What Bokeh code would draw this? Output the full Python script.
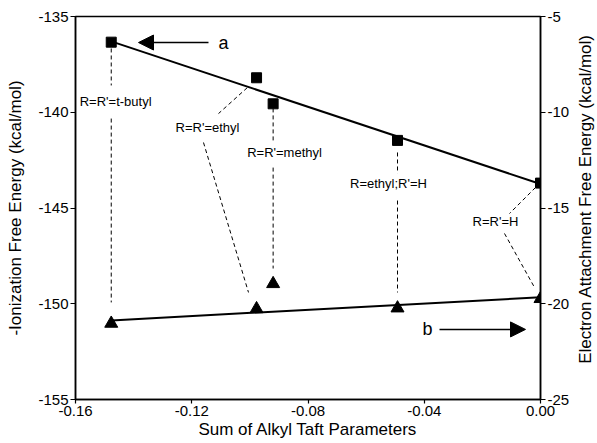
import math
from bokeh.plotting import figure
from bokeh.layouts import row
from bokeh.models import (Range1d, LinearAxis, FixedTicker, NumeralTickFormatter,
                          Arrow, NormalHead, ColumnDataSource)
from bokeh.core.properties import value
from bokeh.embed import file_html
from bokeh.resources import INLINE

# ---------------- data ----------------
taft_sum = [-0.1477, -0.0977, -0.0920, -0.0492, 0.0]
ionization_free_energy = [-136.34, -138.2, -139.56, -141.47, -143.7]      # left axis
attachment_free_energy = [-21.03, -20.27, -18.96, -20.23, -19.74]        # right axis
substituents = ["R=R'=t-butyl", "R=R'=ethyl", "R=R'=methyl", "R=ethyl;R'=H", "R=R'=H"]

fit_x = [-0.1477, 0.0]
fit_a = [-136.3, -143.75]
fit_b = [-20.87, -19.66]

x_ticks = [-0.16, -0.12, -0.08, -0.04, 0.0]
left_ticks = [-155, -150, -145, -140, -135]
right_ticks = [-25, -20, -15, -10, -5]

x_title = "Sum of Alkyl Taft Parameters"
left_title = "-Ionization Free Energy (kcal/mol)"
right_title = "Electron Attachment Free Energy (kcal/mol)"

FONT = "Liberation Sans"

# ---------------- annotation layout (left-axis units) ----------------
label_x = [-0.1462, -0.11458, -0.08808, -0.05230, -0.01548]
label_y = [-139.44, -140.80, -142.10, -143.72, -145.71]
lead_x0 = [-0.1477, -0.1477, -0.10092, -0.11596, -0.0920, -0.0920, -0.0492, -0.0492, -0.00172, -0.01239]
lead_y0 = [-136.67, -140.33, -138.72, -141.58, -139.80, -142.89, -142.10, -144.61, -143.93, -146.33]
lead_x1 = [-0.1477, -0.1477, -0.1108, -0.10047, -0.0920, -0.0920, -0.0492, -0.0492, -0.01067, -0.00206]
lead_y1 = [-138.60, -149.93, -140.07, -149.41, -141.47, -148.16, -143.20, -149.41, -145.29, -149.15]

p = figure(frame_width=465, frame_height=383,
           x_range=Range1d(-0.16, 0.0), y_range=Range1d(-155, -135),
           output_backend="svg", toolbar_location=None,
           min_border_left=75, min_border_right=35, min_border_top=16, min_border_bottom=44)
p.extra_y_ranges = {"right": Range1d(-25, -5)}
p.xgrid.visible = False
p.ygrid.visible = False
p.outline_line_color = "black"
p.outline_line_width = 1.5
p.background_fill_color = "white"
p.border_fill_color = "white"

def style_axis(ax, tick_out=5):
    ax.axis_line_color = "black"
    ax.axis_line_width = 1.5
    ax.major_tick_line_color = "black"
    ax.major_tick_line_width = 1.2
    ax.major_tick_out = tick_out
    ax.major_tick_in = 0
    ax.minor_tick_line_color = None
    ax.major_label_text_font = FONT
    ax.major_label_text_font_size = "15px"
    ax.major_label_text_color = "black"
    ax.major_label_standoff = 2
    ax.axis_label_text_font = FONT
    ax.axis_label_text_font_size = "17px"
    ax.axis_label_text_font_style = "normal"
    ax.axis_label_text_color = "black"

xa = p.xaxis[0]
xa.ticker = FixedTicker(ticks=x_ticks)
xa.formatter = NumeralTickFormatter(format="0.00")
xa.axis_label = x_title
style_axis(xa, 4)
xa.axis_label_standoff = 1

ya = p.yaxis[0]
ya.ticker = FixedTicker(ticks=left_ticks)
ya.formatter = NumeralTickFormatter(format="0")
ya.axis_label = left_title
style_axis(ya)
ya.axis_label_standoff = 10

ra = LinearAxis(y_range_name="right")
ra.ticker = FixedTicker(ticks=right_ticks)
ra.formatter = NumeralTickFormatter(format="0")
style_axis(ra)
p.add_layout(ra, "right")

# leader lines
p.segment(x0=lead_x0, y0=lead_y0, x1=lead_x1, y1=lead_y1,
          line_color="black", line_width=1, line_dash="4 3")

# fit lines
p.line(fit_x, fit_a, line_color="black", line_width=2)
p.line(fit_x, fit_b, line_color="black", line_width=2, y_range_name="right")

# markers
p.scatter(taft_sum, ionization_free_energy, marker="square", size=10,
          fill_color="black", line_color="black")
p.scatter(taft_sum, attachment_free_energy, marker="triangle", size=13,
          fill_color="black", line_color="black", y_range_name="right")

# labels
src = ColumnDataSource(dict(x=label_x, y=label_y, t=substituents))
p.text(x="x", y="y", text="t", source=src, text_font=value(FONT),
       text_font_size="13px", text_align="center", text_baseline="middle",
       text_color="black")

# arrows a and b
p.add_layout(Arrow(end=NormalHead(size=15, fill_color="black", line_color="black"),
                   x_start=-0.11424, y_start=-136.36, x_end=-0.13832, y_end=-136.36,
                   line_color="black", line_width=1.5))
p.add_layout(Arrow(end=NormalHead(size=15, fill_color="black", line_color="black"),
                   x_start=-0.03475, y_start=-151.34, x_end=-0.00516, y_end=-151.34,
                   line_color="black", line_width=1.5))
p.text(x=[-0.10907, -0.03888], y=[-136.36, -151.34], text=["a", "b"],
       text_font=value(FONT), text_font_size="18px",
       text_align="center", text_baseline="middle", text_color="black")

# right-hand axis title (reads bottom to top) in a narrow strip beside the plot
p2 = figure(width=22, height=443, x_range=Range1d(0, 1), y_range=Range1d(0, 443),
            output_backend="svg", toolbar_location=None,
            x_axis_location=None, y_axis_location=None,
            min_border_left=0, min_border_right=0, min_border_top=0, min_border_bottom=0)
p2.xgrid.visible = False
p2.ygrid.visible = False
p2.outline_line_color = None
p2.background_fill_color = "white"
p2.border_fill_color = "white"
p2.text(x=[0.45], y=[232], text=[right_title], angle=math.pi / 2,
        text_font=value(FONT), text_font_size="17px",
        text_align="center", text_baseline="middle", text_color="black")

layout = row(p, p2, spacing=0)
open("out.html", "w").write(file_html(layout, INLINE))
